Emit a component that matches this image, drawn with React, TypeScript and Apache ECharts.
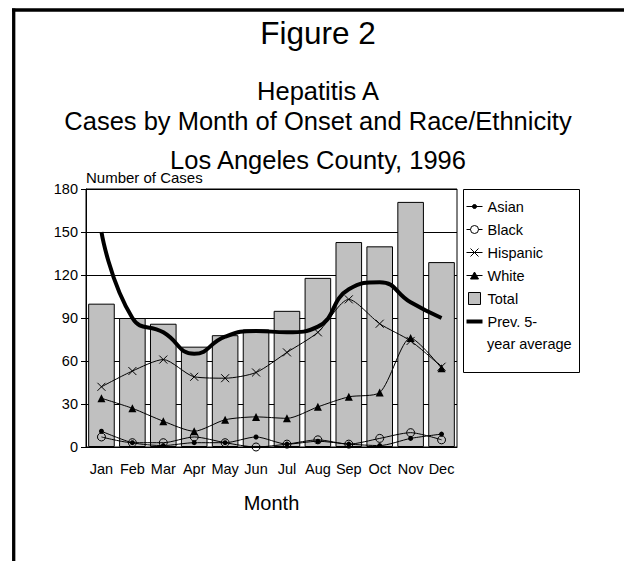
import React, { useEffect, useRef } from 'react';
import * as echarts from 'echarts';

// Monthly hepatitis A case counts, Los Angeles County, 1996
const months = ['Jan', 'Feb', 'Mar', 'Apr', 'May', 'Jun', 'Jul', 'Aug', 'Sep', 'Oct', 'Nov', 'Dec'];
const totalCases = [100, 90, 86, 70, 78, 82, 95, 118, 143, 140, 171, 129];
const asianCases = [11, 3, 1, 3, 3, 7, 2, 4, 2, 1, 6, 9];
const blackCases = [7, 3, 3, 7, 3, 0, 2, 5, 2, 6, 10, 5];
const hispanicCases = [42, 53, 61, 49, 48, 52, 66, 80, 103, 86, 74, 56];
const whiteCases = [34, 27, 18, 11, 19, 21, 20, 28, 35, 38, 76, 55];
const prevFiveYearAvg = [150, 90, 80, 65, 77, 81, 80, 84, 110, 115, 101, 90];
const yTicks = [0, 30, 60, 90, 120, 150, 180];

const titleLines = [
  { text: 'Figure 2', size: 31.5, y: 33 },
  { text: 'Hepatitis A', size: 25.5, y: 91 },
  { text: 'Cases by Month of Onset and Race/Ethnicity', size: 25.5, y: 121 },
  { text: 'Los Angeles County, 1996', size: 25.5, y: 160 },
];

const FONT = '"Liberation Sans", Arial, Helvetica, sans-serif';
const AVG_NAME = 'Prev. 5-year average';
const CROSS = 'path://M0,0L10,10M10,0L0,10';
const CLEAR = 'rgba(0,0,0,0)';

// legend keys: a short rule with the series marker on it
const KEY_ASIAN = 'path://M0,6H16M10,6A2,2,0,1,1,6,6A2,2,0,1,1,10,6Z';
const KEY_BLACK = 'path://M0,6H4M12,6H16M12,6A4,4,0,1,1,4,6A4,4,0,1,1,12,6Z';
const KEY_HISPANIC = 'path://M0,6H16M4,2L12,10M12,2L4,10';
const KEY_WHITE = 'path://M0,6H16M8,2.5L12,9.5H4Z';
const KEY_TOTAL = 'path://M0,0H12V12H0Z';
const KEY_AVG = 'path://M0,4H16V8H0Z';

export default function App() {
  const ref = useRef<HTMLDivElement>(null);

  useEffect(() => {
    if (!ref.current) return;
    const chart = echarts.init(ref.current, undefined, { renderer: 'svg' });

    const thinLine = { color: '#000', width: 1 };
    const option: any = {
      animation: false,
      backgroundColor: '#fff',
      textStyle: { fontFamily: FONT, color: '#000' },
      grid: {
        left: 86,
        top: 189,
        width: 371,
        height: 258,
        show: true,
        borderColor: '#000',
        borderWidth: 1,
        backgroundColor: 'transparent',
      },
      legend: {
        orient: 'vertical',
        left: 466,
        top: 199,
        padding: 0,
        itemWidth: 16,
        itemHeight: 12,
        itemGap: 8,
        selectedMode: false,
        textStyle: { fontFamily: FONT, fontSize: 14.5, color: '#000', lineHeight: 14 },
        data: [
          { name: 'Asian', icon: KEY_ASIAN, itemStyle: { color: '#000', borderColor: '#000', borderWidth: 1 } },
          { name: 'Black', icon: KEY_BLACK, itemStyle: { color: CLEAR, borderColor: '#000', borderWidth: 1 } },
          { name: 'Hispanic', icon: KEY_HISPANIC, itemStyle: { color: CLEAR, borderColor: '#000', borderWidth: 1 } },
          { name: 'White', icon: KEY_WHITE, itemStyle: { color: '#000', borderColor: '#000', borderWidth: 1 } },
          { name: 'Total', icon: KEY_TOTAL, itemStyle: { color: '#c0c0c0', borderColor: '#000', borderWidth: 1 } },
          { name: AVG_NAME, icon: KEY_AVG, itemStyle: { color: '#000', borderColor: '#000', borderWidth: 0 } },
        ],
        formatter: (name: string) => (name === AVG_NAME ? 'Prev. 5-' : name),
      },
      xAxis: {
        type: 'category',
        data: months,
        boundaryGap: true,
        axisLine: { lineStyle: { color: '#000', width: 1 } },
        axisTick: { alignWithLabel: true, length: 6, lineStyle: { color: '#000' } },
        axisLabel: { color: '#000', fontSize: 14.5, margin: 14, fontFamily: FONT, interval: 0 },
        name: 'Month',
        nameLocation: 'middle',
        nameGap: 46,
        nameTextStyle: { fontSize: 20, color: '#000', fontFamily: FONT },
      },
      yAxis: {
        type: 'value',
        min: yTicks[0],
        max: yTicks[yTicks.length - 1],
        interval: yTicks[1] - yTicks[0],
        axisLine: { show: true, lineStyle: { color: '#000', width: 1 } },
        axisTick: { show: true, length: 5, lineStyle: { color: '#000' } },
        axisLabel: { color: '#000', fontSize: 14.5, margin: 8, fontFamily: FONT },
        splitLine: { lineStyle: { color: '#000', width: 1 } },
        name: 'Number of Cases',
        nameLocation: 'end',
        nameGap: 4,
        nameTextStyle: { fontSize: 15, color: '#000', align: 'left', verticalAlign: 'bottom', fontFamily: FONT },
      },
      series: [
        {
          name: 'Total',
          type: 'bar',
          data: totalCases,
          barCategoryGap: '14%',
          itemStyle: { color: '#c0c0c0', borderColor: '#000', borderWidth: 1 },
          z: 1,
        },
        {
          name: 'Asian',
          type: 'line',
          data: asianCases,
          smooth: 0.25,
          symbol: 'circle',
          symbolSize: 5,
          lineStyle: thinLine,
          itemStyle: { color: '#000' },
          z: 3,
        },
        {
          name: 'Black',
          type: 'line',
          data: blackCases,
          smooth: 0.25,
          symbol: 'circle',
          symbolSize: 8,
          lineStyle: thinLine,
          itemStyle: { color: CLEAR, borderColor: '#000', borderWidth: 1 },
          z: 3,
        },
        {
          name: 'Hispanic',
          type: 'line',
          data: hispanicCases,
          smooth: 0.25,
          symbol: CROSS,
          symbolSize: 8,
          lineStyle: thinLine,
          itemStyle: { color: '#000', borderColor: '#000', borderWidth: 1 },
          z: 3,
        },
        {
          name: 'White',
          type: 'line',
          data: whiteCases,
          smooth: 0.25,
          symbol: 'triangle',
          symbolSize: 8,
          lineStyle: thinLine,
          itemStyle: { color: '#000' },
          z: 3,
        },
        {
          name: AVG_NAME,
          type: 'line',
          data: prevFiveYearAvg,
          smooth: 0.5,
          symbol: 'none',
          lineStyle: { color: '#000', width: 4 },
          itemStyle: { color: '#000' },
          z: 4,
        },
      ],
      graphic: [
        // page frame: top and left rules
        { type: 'line', shape: { x1: 12, y1: 10, x2: 624, y2: 10 }, style: { stroke: '#000', lineWidth: 3.3 } },
        { type: 'line', shape: { x1: 13.7, y1: 8.5, x2: 13.7, y2: 561 }, style: { stroke: '#000', lineWidth: 3.3 } },
        // legend frame
        {
          type: 'rect',
          shape: { x: 463.5, y: 189.5, width: 116, height: 183 },
          style: { fill: 'none', stroke: '#000', lineWidth: 1 },
          z: -1,
        },
        {
          type: 'text',
          x: 487,
          y: 343.5,
          style: {
            text: 'year average',
            fontFamily: FONT,
            fontSize: 14.5,
            fill: '#000',
            textAlign: 'left',
            textVerticalAlign: 'middle',
          },
        },
        ...titleLines.map((t) => ({
          type: 'text',
          x: 318,
          y: t.y,
          style: {
            text: t.text,
            fontFamily: FONT,
            fontSize: t.size,
            fill: '#000',
            textAlign: 'center',
            textVerticalAlign: 'middle',
          },
        })),
      ],
    };

    chart.setOption(option);
    return () => chart.dispose();
  }, []);

  return <div ref={ref} style={{ width: 624, height: 561, position: 'absolute', left: 0, top: 0 }} />;
}
